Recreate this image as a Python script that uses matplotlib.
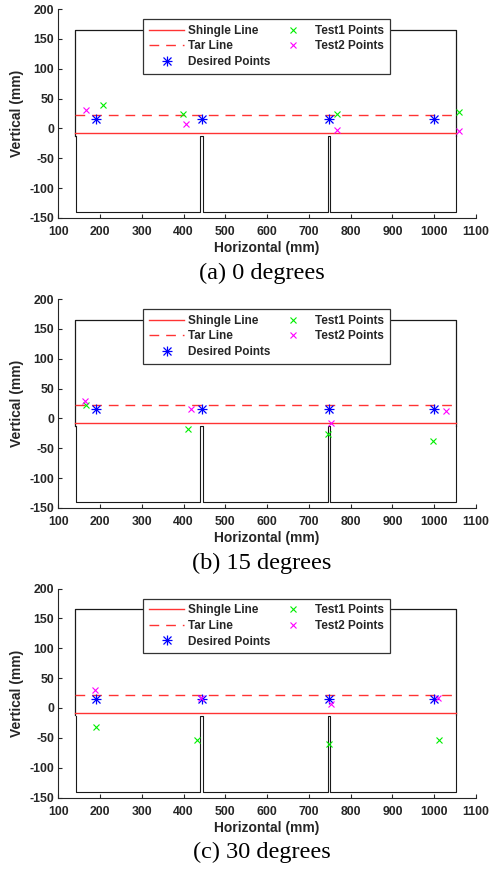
import matplotlib
matplotlib.use('Agg')
import matplotlib.pyplot as plt
from matplotlib.legend_handler import HandlerTuple

plt.rcParams['font.family'] = ['Liberation Sans', 'DejaVu Sans']
plt.rcParams['font.weight'] = 'bold'
plt.rcParams['axes.unicode_minus'] = False

####################
# roof geometry (mm)
deck_x = [140, 140, 1053, 1053]
deck_y = [-12, 165, 165, -12]
sheet_x = [142, 142, 439, 439, 446, 446, 746, 746, 750, 750, 1051, 1051]
sheet_y = [-13, -140, -140, -13, -13, -140, -140, -13, -13, -140, -140, -13]

line_x = [140, 1053]
shingle_y = -8
tar_y = 22

desired_x = [190, 443, 748, 1000]
desired_y = [15, 15, 15, 15]

angles = ['(a) 0 degrees', '(b) 15 degrees', '(c) 30 degrees']

test1_x = [[206, 398, 768, 1059],
           [166, 410, 746, 998],
           [190, 431, 749, 1011]]
test1_y = [[39, 24, 24, 28],
           [22, -17, -26, -38],
           [-32, -54, -60, -54]]
test2_x = [[166, 405, 768, 1060],
           [165, 417, 752, 1027],
           [189, 442, 752, 1009]]
test2_y = [[31, 8, -3, -5],
           [29, 16, -7, 13],
           [30, 17, 6, 16]]
####################

W, H = 491, 869
fig = plt.figure(figsize=(W / 100, H / 100), dpi=100)

tops = [9, 299, 588.5]
ax_left, ax_right, ax_h = 58.3, 476, 209
grey = '#262626'

for i in range(3):
    ax = fig.add_axes([ax_left / W, 1 - (tops[i] + ax_h) / H, (ax_right - ax_left) / W, ax_h / H])

    # roof outline
    ax.plot(deck_x, deck_y, color='#1a1a1a', lw=0.9, zorder=1)
    ax.plot(sheet_x, sheet_y, color='#1a1a1a', lw=0.8, zorder=1)

    h_sh, = ax.plot(line_x, [shingle_y, shingle_y], color='#ff3333', lw=1.0, zorder=2)
    h_tar, = ax.plot(line_x, [tar_y, tar_y], color='#ff3333', lw=1.0, ls=(0, (7, 5)), zorder=2)

    # asterisk = plus + cross
    h_d1, = ax.plot(desired_x, desired_y, ls='none', marker='+', ms=7.5, mew=0.9, color='#0000ff', zorder=3)
    h_d2, = ax.plot(desired_x, desired_y, ls='none', marker='x', ms=5.5, mew=0.9, color='#0000ff', zorder=3)

    h_t1, = ax.plot(test1_x[i], test1_y[i], ls='none', marker='x', ms=5, mew=0.8, color='#00ee00', zorder=4)
    h_t2, = ax.plot(test2_x[i], test2_y[i], ls='none', marker='x', ms=5, mew=0.8, color='#ff00ff', zorder=4)

    ax.set_xlim(100, 1100)
    ax.set_ylim(-150, 200)
    ax.set_xticks(range(100, 1101, 100))
    ax.set_yticks(range(-150, 201, 50))
    ax.spines['top'].set_visible(False)
    ax.spines['right'].set_visible(False)
    for s in ['left', 'bottom']:
        ax.spines[s].set_color(grey)
        ax.spines[s].set_linewidth(0.8)
    ax.tick_params(direction='in', length=3, width=0.8, colors=grey, labelsize=8.8)
    ax.tick_params(axis='x', pad=6)
    ax.tick_params(axis='y', pad=3)
    for lab in ax.get_xticklabels() + ax.get_yticklabels():
        lab.set_fontweight('bold')
    ax.set_xlabel('Horizontal (mm)', fontsize=10, fontweight='bold', color=grey, labelpad=2)
    ax.set_ylabel('Vertical (mm)', fontsize=10, fontweight='bold', color=grey, labelpad=4)

    leg = ax.legend([h_sh, h_tar, (h_d1, h_d2), h_t1, h_t2],
                    ['Shingle Line', 'Tar Line', 'Desired Points', 'Test1 Points', 'Test2 Points'],
                    handler_map={tuple: HandlerTuple(ndivide=1)},
                    ncol=2, loc='upper left', bbox_to_anchor=(0.203, 0.952),
                    borderaxespad=0, fontsize=8.5, handlelength=3.0, handletextpad=0.3,
                    columnspacing=0.45, labelspacing=0.3, borderpad=0.5,
                    fancybox=False, framealpha=1, edgecolor='#333333')
    leg.get_frame().set_linewidth(0.9)
    leg.set_zorder(5)
    for t in leg.get_texts():
        t.set_fontweight('bold')
        t.set_color(grey)

    fig.text(262 / W, 1 - (tops[i] + 264) / H, angles[i], ha='center', va='center',
             fontsize=17.5, family='Liberation Serif', fontweight='normal')

fig.savefig('out.png', dpi=100)
